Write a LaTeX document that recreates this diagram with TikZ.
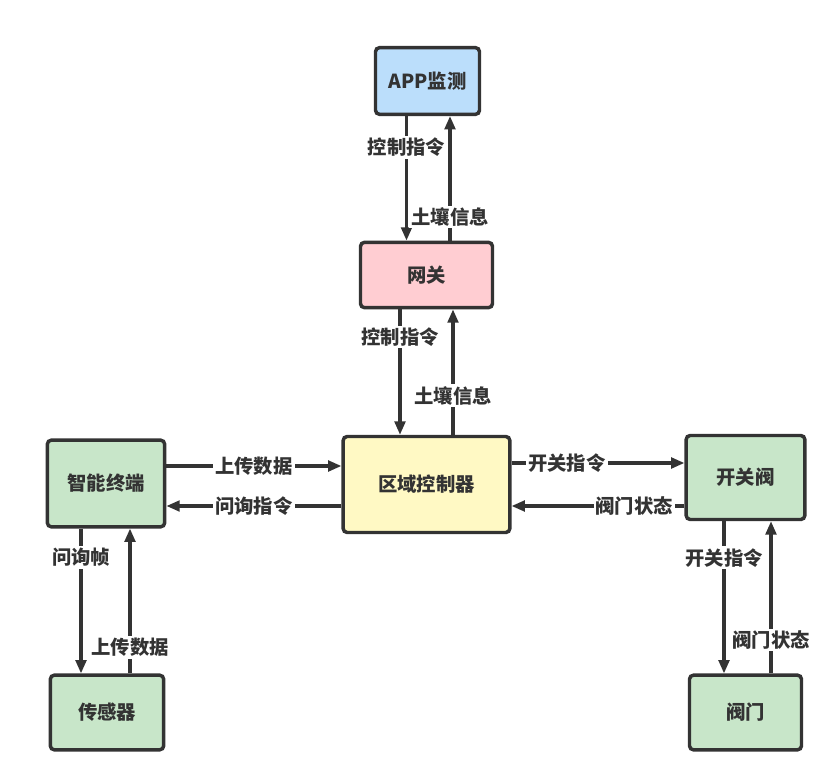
\documentclass[tikz,border=0pt]{standalone}
\usepackage{fontspec}
\setmainfont{Noto Sans CJK SC}
\usepackage{tikz}
\usepackage{xcolor}
\usetikzlibrary{calc,arrows.meta}
\definecolor{linec}{HTML}{333333}
\definecolor{appc}{HTML}{BBDEFB}
\definecolor{gatec}{HTML}{FFCDD2}
\definecolor{ctrlc}{HTML}{FFF9C4}
\definecolor{devc}{HTML}{C8E6C9}
\tikzstyle{unitbox} = [
    draw=linec,
    line width=2.6pt,
    rounded corners=3pt,
    rectangle,
    text=linec,
    font=\bfseries\fontsize{14.5pt}{16pt}\selectfont
    ]
\tikzstyle{flow} = [
    draw=linec,
    line width=2.3pt,
    -{Triangle[length=10pt,width=8pt]}
    ]
\tikzstyle{tag} = [
    fill=white,
    text=linec,
    inner sep=1.5pt,
    font=\bfseries\fontsize{14.5pt}{16pt}\selectfont
    ]
\begin{document}
\begin{tikzpicture}[x=0.75pt,y=-0.75pt]
\useasboundingbox (0,0) rectangle (836,781);
% boxes
\node[unitbox, fill=appc, minimum width=78pt, minimum height=50pt] (app) at (427.5,81) {APP监测};
\node[unitbox, fill=gatec, minimum width=99pt, minimum height=49pt] (gw) at (426.5,275) {网关};
\node[unitbox, fill=ctrlc, minimum width=125pt, minimum height=72pt] (ctrl) at (426.5,484.5) {区域控制器};
\node[unitbox, fill=devc, minimum width=88pt, minimum height=65pt] (term) at (106,483.5) {智能终端};
\node[unitbox, fill=devc, minimum width=89pt, minimum height=63pt] (sw) at (745.5,477.5) {开关阀};
\node[unitbox, fill=devc, minimum width=85pt, minimum height=56pt] (sensor) at (107,712.5) {传感器};
\node[unitbox, fill=devc, minimum width=84pt, minimum height=56pt] (valve) at (745.5,712.5) {阀门};
% app <-> gateway
\draw[flow] ($(app.south)+(-21,0)$) coordinate (a1) -- (a1 |- gw.north) node[tag, pos=0.25] {控制指令};
\draw[flow] ($(gw.north)+(23.5,0)$) coordinate (a2) -- (a2 |- app.south) node[tag, pos=0.19] {土壤信息};
% gateway <-> controller
\draw[flow] ($(gw.south)+(-26.5,0)$) coordinate (b1) -- (b1 |- ctrl.north) node[tag, pos=0.22] {控制指令};
\draw[flow] ($(ctrl.north)+(26.5,0)$) coordinate (b2) -- (b2 |- gw.south) node[tag, pos=0.31] {土壤信息};
% terminal <-> controller
\draw[flow] ($(term.east)+(0,-17.5)$) coordinate (c1) -- (c1 -| ctrl.west) node[tag, pos=0.5] {上传数据};
\draw[flow] ($(ctrl.west)+(0,21.5)$) coordinate (c2) -- (c2 -| term.east) node[tag, pos=0.5] {问询指令};
% controller <-> switch valve
\draw[flow] ($(ctrl.east)+(0,-21.5)$) coordinate (d1) -- (d1 -| sw.west) node[tag, pos=0.32] {开关指令};
\draw[flow] ($(sw.west)+(0,28.5)$) coordinate (d2) -- (d2 -| ctrl.east) node[tag, pos=0.29] {阀门状态};
% terminal <-> sensor
\draw[flow] ($(term.south)+(-25,0)$) coordinate (e1) -- (e1 |- sensor.north) node[tag, pos=0.2] {问询帧};
\draw[flow] ($(sensor.north)+(23,0)$) coordinate (e2) -- (e2 |- term.south) node[tag, pos=0.18] {上传数据};
% switch valve <-> valve
\draw[flow] ($(sw.south)+(-21.5,0)$) coordinate (f1) -- (f1 |- valve.north) node[tag, pos=0.24] {开关指令};
\draw[flow] ($(valve.north)+(25.5,0)$) coordinate (f2) -- (f2 |- sw.south) node[tag, pos=0.22] {阀门状态};
\end{tikzpicture}
\end{document}
